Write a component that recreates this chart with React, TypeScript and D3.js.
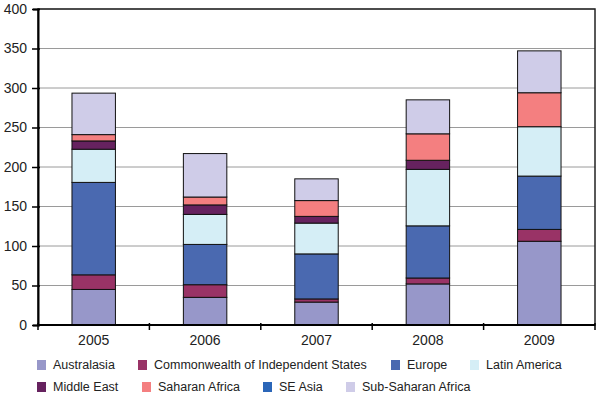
import React, { useRef, useEffect } from 'react';
import * as d3 from 'd3';

const years = ['2005', '2006', '2007', '2008', '2009'];
const regions = [
  'Australasia',
  'Commonwealth of Independent States',
  'Europe',
  'Latin America',
  'Middle East',
  'Saharan Africa',
  'SE Asia',
  'Sub-Saharan Africa',
];
const australasia = [45, 35, 29, 52, 106];
const cis = [18.5, 16, 4, 7.5, 15];
const europe = [117, 51, 57, 66, 67.5];
const latinAmerica = [42, 38, 39, 71.5, 62.5];
const middleEast = [10.5, 12, 8.5, 11.5, 0];
const saharanAfrica = [8, 10, 20, 33.5, 43];
const seAsia = [0, 0, 0, 0, 0];
const subSaharanAfrica = [52.5, 55, 27.5, 43, 53];
const yTicks = [0, 50, 100, 150, 200, 250, 300, 350, 400];

const colors = ['#9797c9', '#993366', '#4a69b0', '#d5eef6', '#66225f', '#f47f80', '#2b66b8', '#cfcce8'];

export default function App() {
  const ref = useRef<SVGSVGElement>(null);

  useEffect(() => {
    const svg = d3.select(ref.current);
    svg.selectAll('*').remove();

    const left = 38, right = 595, top = 9, bottom = 325;
    const series = [australasia, cis, europe, latinAmerica, middleEast, saharanAfrica, seAsia, subSaharanAfrica];
    const table = years.map((y, i) => {
      const row: any = { year: y };
      regions.forEach((r, k) => (row[r] = series[k][i]));
      return row;
    });
    const stacked = d3.stack().keys(regions)(table);

    const x = d3.scaleBand().domain(years).range([left, right]).paddingInner(0.61).paddingOuter(0.305);
    const band = d3.scaleBand().domain(years).range([left, right]);
    const y = d3.scaleLinear().domain([0, 400]).range([bottom, top]);
    const font = 'Liberation Sans, Arial, sans-serif';

    // grid lines
    svg.append('g')
      .selectAll('line')
      .data(yTicks.slice(1))
      .join('line')
      .attr('x1', left).attr('x2', right)
      .attr('y1', d => y(d)).attr('y2', d => y(d))
      .attr('stroke', '#9a9a9a').attr('stroke-width', 1);

    // plot frame
    svg.append('rect')
      .attr('x', left).attr('y', top)
      .attr('width', right - left).attr('height', bottom - top)
      .attr('fill', 'none').attr('stroke', '#222').attr('stroke-width', 1.5);

    // bars
    svg.append('g')
      .selectAll('g')
      .data(stacked)
      .join('g')
      .attr('fill', (d, i) => colors[i])
      .selectAll('rect')
      .data(d => d.filter(s => s[1] - s[0] > 0))
      .join('rect')
      .attr('x', d => x(d.data.year as string)!)
      .attr('y', d => y(d[1]))
      .attr('width', x.bandwidth())
      .attr('height', d => y(d[0]) - y(d[1]))
      .attr('stroke', '#111').attr('stroke-width', 1);

    // y axis
    const ya = svg.append('g')
      .attr('transform', `translate(${left},0)`)
      .call(d3.axisLeft(y).tickValues(yTicks).tickSize(5).tickPadding(6));
    ya.select('.domain').attr('stroke', '#000').attr('stroke-width', 2);
    ya.selectAll('.tick line').attr('stroke', '#000').attr('stroke-width', 1.5).attr('x2', -6).attr('x1', 2);
    ya.selectAll('text').attr('font-family', font).attr('font-size', 14).attr('fill', '#222');

    // x axis
    const xa = svg.append('g').attr('transform', `translate(0,${bottom})`);
    xa.append('line').attr('x1', left).attr('x2', right).attr('stroke', '#000').attr('stroke-width', 2);
    xa.selectAll('line.tk')
      .data([...years.map(d => band(d)!), right])
      .join('line')
      .attr('class', 'tk')
      .attr('x1', d => d).attr('x2', d => d)
      .attr('y1', -2).attr('y2', 5)
      .attr('stroke', '#000').attr('stroke-width', 1.5);
    xa.selectAll('text')
      .data(years)
      .join('text')
      .attr('x', d => band(d)! + band.bandwidth() / 2)
      .attr('y', 20)
      .attr('text-anchor', 'middle')
      .attr('font-family', font).attr('font-size', 14).attr('fill', '#222')
      .text(d => d);

    // legend
    const legendPos = [
      [37, 365], [138, 365], [391, 365], [470, 365],
      [37, 387], [142, 387], [263, 387], [346, 387],
    ];
    const lg = svg.append('g')
      .selectAll('g')
      .data(regions)
      .join('g')
      .attr('transform', (d, i) => `translate(${legendPos[i][0]},${legendPos[i][1]})`);
    lg.append('rect')
      .attr('x', 0).attr('y', -5)
      .attr('width', 9).attr('height', 10)
      .attr('fill', (d, i) => colors[i]);
    lg.append('text')
      .attr('x', 16).attr('y', 0).attr('dy', '0.35em')
      .attr('font-family', font).attr('font-size', 12.5).attr('fill', '#222')
      .text(d => d);
  }, []);

  return (
    <svg
      ref={ref}
      width={600}
      height={397}
      style={{ position: 'absolute', left: 0, top: 0, display: 'block', background: '#fff' }}
    />
  );
}
